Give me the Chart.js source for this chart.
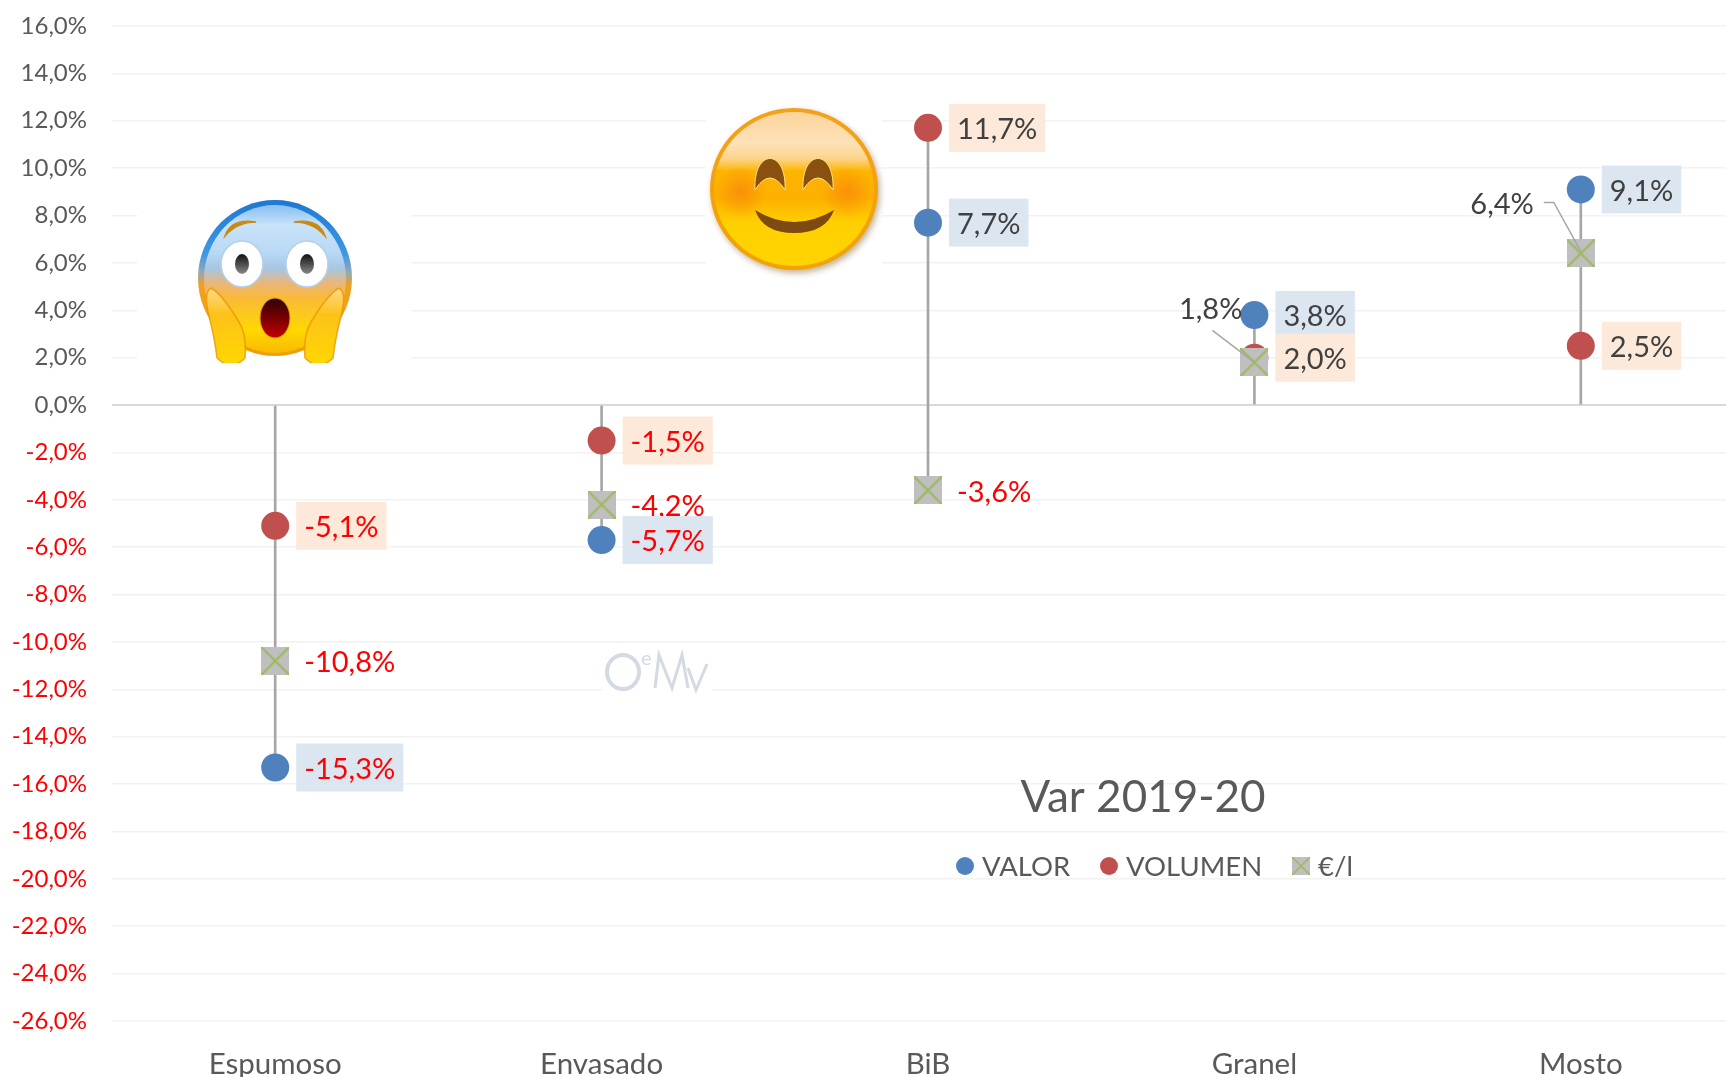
<!DOCTYPE html>
<html><head><meta charset="utf-8">
<style>html,body{margin:0;padding:0;background:#fff;overflow:hidden}#w{width:1726px;height:1077px;overflow:hidden}canvas{display:block}</style>
<script src="https://cdn.jsdelivr.net/npm/chart.js@4"></script>
</head><body><div id="w"><canvas id="c" width="1758" height="1077" style="width:1758px;height:1077px"></canvas></div>
<script>
const categories = ['Espumoso','Envasado','BiB','Granel','Mosto'];
const valor = [-15.3,-5.7,7.7,3.8,9.1];
const volumen = [-5.1,-1.5,11.7,2.0,2.5];
const precio = [-10.8,-4.2,-3.6,1.8,6.4];
const seriesNames = ['VALOR','VOLUMEN','€/l'];
const chartTitle = 'Var 2019-20';

const FONT='Lato, Carlito, sans-serif';
const fmt=v=>v.toFixed(1).replace('.',',')+'%';
const span=categories.map((_,i)=>{const a=[valor[i],volumen[i],precio[i],0];return [Math.min(...a),Math.max(...a)];});

function crossMarker(size){
  const m=document.createElement('canvas');m.width=size;m.height=size;
  const g=m.getContext('2d');
  g.fillStyle='#bfbfbf';g.fillRect(0,0,size,size);
  g.strokeStyle='#9bbb59';g.lineWidth=Math.max(1.5,size/14);
  g.beginPath();g.moveTo(0,0);g.lineTo(size,size);g.moveTo(size,0);g.lineTo(0,size);g.stroke();
  return m;
}

function ell(g,x,y,rx,ry){g.beginPath();g.ellipse(x,y,rx,ry,0,0,Math.PI*2);}
function drawScared(g){
  g.fillStyle='#fff';g.fillRect(137,190,274,175);
  g.save();g.beginPath();g.rect(180,190,190,173);g.clip();
  // borde
  let e=g.createLinearGradient(0,200,0,356);
  e.addColorStop(0,'#1f78cf');e.addColorStop(.35,'#3f97e6');e.addColorStop(.46,'#8fa9b8');e.addColorStop(.55,'#f2a020');e.addColorStop(1,'#f0a000');
  ell(g,275,278,77,78);g.fillStyle=e;g.fill();
  let h=g.createLinearGradient(0,208,0,352);
  h.addColorStop(0,'#8fc4f2');h.addColorStop(.12,'#c9e3f9');h.addColorStop(.32,'#b7d8f5');h.addColorStop(.42,'#a6c6e2');
  h.addColorStop(.52,'#e9b67c');h.addColorStop(.62,'#fab93a');h.addColorStop(.85,'#ffd800');h.addColorStop(1,'#f9bb00');
  ell(g,275,279,71,74);g.fillStyle=h;g.fill();
  // cejas
  g.fillStyle='#c98a12';
  [1,-1].forEach(s=>{const X=x=>275+s*x;
    g.beginPath();g.moveTo(X(-50),236);g.quadraticCurveTo(X(-44),218,X(-19),222);g.quadraticCurveTo(X(-38),222,X(-50),236);g.closePath();g.fill();
    g.strokeStyle='#c98a12';g.lineWidth=1.5;g.stroke();
  });
  // ojos
  [242,307].forEach(x=>{
    ell(g,x,264,21,23);g.fillStyle='#fff';g.fill();g.strokeStyle='#b4cfe8';g.lineWidth=1.5;g.stroke();
    const p=g.createLinearGradient(0,254,0,274);p.addColorStop(0,'#111');p.addColorStop(1,'#888');
    ell(g,x,264,7,10);g.fillStyle=p;g.fill();
  });
  // boca
  const b=g.createLinearGradient(0,298,0,338);b.addColorStop(0,'#2a0505');b.addColorStop(.5,'#7a0000');b.addColorStop(1,'#c40000');
  ell(g,275,318,15,20);g.fillStyle=b;g.fill();g.strokeStyle='#e8a000';g.lineWidth=1;g.stroke();
  // manos
  [1,-1].forEach(s=>{
    const X=x=>275+s*x;
    const m=g.createLinearGradient(0,288,0,363);m.addColorStop(0,'#ffd98a');m.addColorStop(.35,'#fdc21a');m.addColorStop(1,'#ffd600');
    g.beginPath();g.moveTo(X(64),288);
    g.quadraticCurveTo(X(72),292,X(66),316);
    g.quadraticCurveTo(X(60),340,X(58),358);
    g.quadraticCurveTo(X(44),372,X(30),358);
    g.quadraticCurveTo(X(28),335,X(36),322);
    g.quadraticCurveTo(X(52),295,X(64),288);
    g.closePath();g.fillStyle=m;g.fill();g.strokeStyle='rgba(235,150,0,.8)';g.lineWidth=1.5;g.stroke();
  });
  g.restore();
}
function drawSmile(g){
  g.fillStyle='#fff';g.fillRect(706,100,176,185);
  g.save();g.shadowColor='rgba(120,80,20,.45)';g.shadowBlur=6;g.shadowOffsetY=3;g.shadowOffsetX=2;
  let e=g.createLinearGradient(0,108,0,270);e.addColorStop(0,'#f5a01a');e.addColorStop(1,'#f0a400');
  ell(g,794,189,84,81);g.fillStyle=e;g.fill();g.restore();
  let h=g.createLinearGradient(0,112,0,268);
  h.addColorStop(0,'#fbd49a');h.addColorStop(.2,'#fde2b8');h.addColorStop(.3,'#fcd48a');h.addColorStop(.38,'#fdb400');h.addColorStop(.55,'#fdb000');h.addColorStop(.72,'#ffd000');h.addColorStop(1,'#ffd400');
  ell(g,794,189,80,77);g.fillStyle=h;g.fill();
  [[741,192],[847,192]].forEach(([x,y])=>{
    const r=g.createRadialGradient(x,y,2,x,y,26);r.addColorStop(0,'rgba(250,140,10,.8)');r.addColorStop(1,'rgba(250,140,10,0)');
    g.fillStyle=r;ell(g,x,y,26,26);g.fill();
  });
  g.fillStyle='#8a500f';g.strokeStyle='#ffe680';g.lineWidth=1;
  [770,818].forEach(x=>{
    g.beginPath();g.moveTo(x-15,190);
    g.bezierCurveTo(x-17,148,x+17,148,x+15,190);
    g.quadraticCurveTo(x,166,x-15,190);
    g.closePath();g.fill();g.stroke();
  });
  g.beginPath();g.moveTo(755,210);g.quadraticCurveTo(794,234,834,210);
  g.quadraticCurveTo(826,233,794,233);g.quadraticCurveTo(763,233,755,210);g.closePath();
  g.fillStyle='#7d4a10';g.fill();
}
function drawWatermark(g){
  g.save();g.fillStyle='#fff';g.fillRect(602,650,110,44);
  g.fillStyle='#d3dae3';g.strokeStyle='#d3dae3';
  g.lineWidth=4;ell(g,623,672,16,17);g.stroke();
  g.textAlign='left';g.textBaseline='alphabetic';
  g.font='20px '+FONT;g.fillText('e',641,665);
  g.lineWidth=3;g.beginPath();g.moveTo(655,688);g.lineTo(659,655);g.lineTo(672,688);g.lineTo(682,655);g.lineTo(688,688);g.stroke();
  g.beginPath();g.moveTo(688,668);g.lineTo(696,690);g.lineTo(707,664);g.stroke();
  g.restore();
}

const labelPlugin={id:'labels',
  beforeDatasetsDraw(chart){const g=chart.ctx;drawScared(g);drawSmile(g);drawWatermark(g);},
  afterDatasetsDraw(chart){
    const g=chart.ctx,xS=chart.scales.x,yS=chart.scales.y;
    const neg=v=>v<0?'#ff0000':'#404040';
    g.save();g.textBaseline='middle';g.textAlign='left';g.font='29px '+FONT;
    // leaders
    g.strokeStyle='#a6a6a6';g.lineWidth=1.5;
    const yG=yS.getPixelForValue(precio[3]),xG=xS.getPixelForValue(3);
    g.beginPath();g.moveTo(xG-42,yG-32);g.lineTo(xG,yG);g.stroke();
    const yM=yS.getPixelForValue(precio[4]),xM=xS.getPixelForValue(4);
    g.beginPath();g.moveTo(xM-37,yM-51);g.lineTo(xM-27,yM-51);g.lineTo(xM,yM-2);g.stroke();
    // €/l
    precio.forEach((v,i)=>{
      const x=xS.getPixelForValue(i),y=yS.getPixelForValue(v);
      g.fillStyle=neg(v);
      if(i===3){g.textAlign='right';g.fillText(fmt(v),x-12,y-53);}
      else if(i===4){g.textAlign='right';g.fillText(fmt(v),x-47,y-49);}
      else{g.textAlign='left';g.fillText(fmt(v),x+29,y+2);}
    });
    g.textAlign='left';
    [[valor,'#dce6f1'],[volumen,'#fde9d9']].forEach(([arr,bg])=>{
      arr.forEach((v,i)=>{
        const x=xS.getPixelForValue(i)+21,y=yS.getPixelForValue(v);
        const w=g.measureText(fmt(v)).width+16;
        g.fillStyle=bg;g.fillRect(x,y-24,w,48);
        g.fillStyle=neg(v);g.fillText(fmt(v),x+8,y+2);
      });
    });
    // title + legend
    g.fillStyle='#595959';g.textAlign='center';g.font='44px '+FONT;g.fillText(chartTitle,1143,798);
    g.textAlign='left';g.font='27.5px '+FONT;
    g.fillStyle='#4f81bd';ell(g,965,866,9,9);g.fill();
    g.fillStyle='#c0504d';ell(g,1109,866,9,9);g.fill();
    g.drawImage(crossMarker(18),1292,857);
    g.fillStyle='#595959';
    g.fillText(seriesNames[0],982,867);g.fillText(seriesNames[1],1126,867);g.fillText(seriesNames[2],1318,867);
    g.restore();
  }
};

const pts=(label,data,color,style,r,order)=>({type:'line',label,data,showLine:false,pointStyle:style,pointRadius:r,pointHoverRadius:r,
  pointBackgroundColor:color,pointBorderColor:color,pointBorderWidth:0,order});

new Chart(document.getElementById('c'),{
  data:{labels:categories,datasets:[
    {type:'bar',label:'rango',data:span,backgroundColor:'#a6a6a6',barThickness:2,order:10},
    pts(seriesNames[0],valor,'#4f81bd','circle',14,3),
    pts(seriesNames[1],volumen,'#c0504d','circle',14,2),
    pts(seriesNames[2],precio,'#bfbfbf',crossMarker(28),14,1)
  ]},
  plugins:[labelPlugin],
  options:{responsive:false,animation:false,devicePixelRatio:1,
    layout:{padding:{top:26,left:0,right:0,bottom:0}},
    plugins:{legend:{display:false},title:{display:false},tooltip:{enabled:false}},
    events:[],
    scales:{
      x:{type:'category',offset:true,grid:{display:false},border:{display:false},
        afterFit(s){s.height=56;s.paddingLeft=0;s.paddingRight=0;},
        ticks:{color:'#595959',font:{family:FONT,size:29.5},padding:18,maxRotation:0}},
      y:{type:'linear',min:-26,max:16,border:{display:false},
        afterFit(s){s.width=112;s.paddingTop=0;s.paddingBottom=0;},
        grid:{drawTicks:false,lineWidth:c=>c.tick&&c.tick.value===0?2:1.5,color:c=>c.tick&&c.tick.value===0?'#d9d9d9':'#f2f2f2'},
        ticks:{stepSize:2,padding:25,font:{family:FONT,size:24},color:c=>c.tick.value<0?'#ff0000':'#595959',callback:v=>fmt(v)}}
    }
  }
});
</script></body></html>
